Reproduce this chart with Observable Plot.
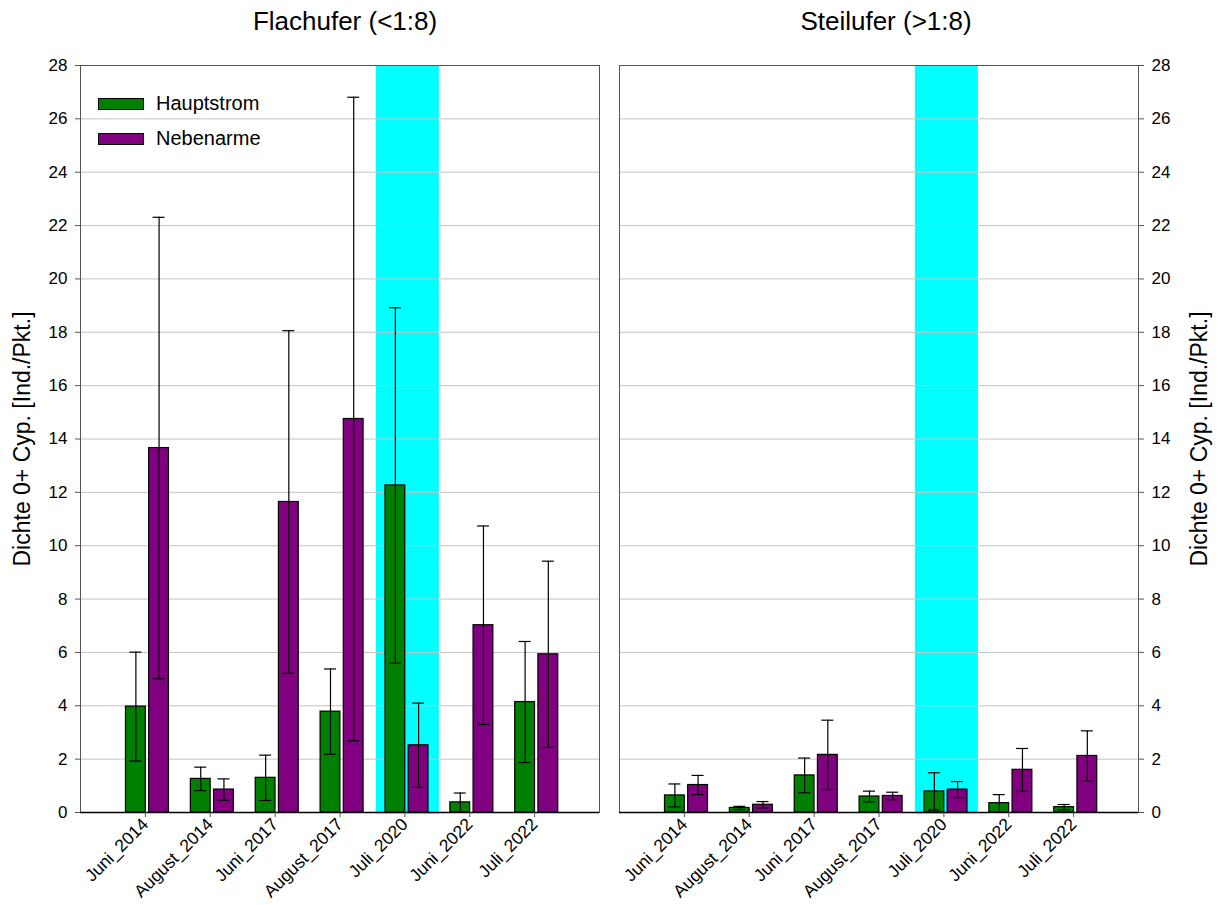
<!DOCTYPE html>
<html>
<head>
<meta charset="utf-8">
<script src="https://cdn.jsdelivr.net/npm/d3@7"></script>
<script src="https://cdn.jsdelivr.net/npm/@observablehq/plot@0.6"></script>
<style>
  body { margin: 0; background: #fff; font-family: "Liberation Sans", Arial, sans-serif; }
  #chart { position: relative; width: 1218px; height: 905px; }
  .panel { position: absolute; top: 0; }
  .title { position: absolute; top: 6px; line-height: 30px; font-size: 26px; color: #000;
           transform: translateX(-50%); white-space: nowrap; z-index: 2; }
  .legend { position: absolute; left: 98px; top: 90px; z-index: 2; font-size: 20px; color: #000; }
  .legend .row { display: flex; align-items: center; height: 27px; margin-bottom: 8px; }
  .legend .sw { box-sizing: border-box; width: 46px; height: 12px; border: 1px solid #000; margin-right: 12px; }
</style>
</head>
<body>
<div id="chart"></div>
<script>
// Sampling dates (x categories)
const dates = ["Juni_2014", "August_2014", "Juni_2017", "August_2017", "Juli_2020", "Juni_2022", "Juli_2022"];
// Series and their fills
const series = ["Hauptstrom", "Nebenarme"];
const seriesColors = ["#008000", "#800080"];
// Date shaded in cyan
const highlighted = ["Juli_2020"];

// Flachufer (<1:8): mean density and error
const flachHaupt    = [3.97, 1.26, 1.30, 3.78, 12.26, 0.38, 4.14];
const flachHauptErr = [2.04, 0.44, 0.85, 1.60, 6.66, 0.35, 2.27];
const flachNeben    = [13.66, 0.86, 11.64, 14.75, 2.52, 7.02, 5.93];
const flachNebenErr = [8.65, 0.40, 6.42, 12.06, 1.58, 3.72, 3.49];

// Steilufer (>1:8): mean density and error
const steilHaupt    = [0.64, 0.17, 1.39, 0.60, 0.79, 0.35, 0.20];
const steilHauptErr = [0.43, 0.06, 0.65, 0.20, 0.70, 0.32, 0.10];
const steilNeben    = [1.03, 0.29, 2.16, 0.62, 0.86, 1.60, 2.12];
const steilNebenErr = [0.36, 0.12, 1.30, 0.14, 0.30, 0.80, 0.94];

// Axis ticks and labels
const yTicks = [0, 2, 4, 6, 8, 10, 12, 14, 16, 18, 20, 22, 24, 26, 28];
const yLabel = "Dichte 0+ Cyp. [Ind./Pkt.]";
const titles = ["Flachufer (<1:8)", "Steilufer (>1:8)"];

const yMax = yTicks[yTicks.length - 1];
const FONT = "'Liberation Sans', Arial, sans-serif";
const frameWidth = 519;
const band = frameWidth / 8;       // band step: 7 dates + half a step on each side
const half = band / 2;
// bar extents relative to band centre, per series
const place = {
  Hauptstrom: {lo: -19.4, hi: 0.4},
  Nebenarme:  {lo: 3.8, hi: 23.6}
};
const capHalf = 6;

function panel(values, side) {
  const left = side === "left";
  const rows = dates.flatMap((d, i) => series.map((s, j) => ({
    date: d, serie: s, value: values[j][0][i], err: values[j][1][i]
  })));

  const seriesMarks = series.flatMap((s, j) => {
    const p = place[s];
    const data = rows.filter(r => r.serie === s);
    const mid = (p.lo + p.hi) / 2;
    return [
      Plot.barY(data, {
        x: "date", y: "value", fill: seriesColors[j], stroke: "#000", strokeWidth: 1.2,
        insetLeft: half + p.lo, insetRight: half - p.hi
      }),
      Plot.ruleX(data, {
        x: "date", y1: d => d.value - d.err, y2: d => d.value + d.err,
        dx: mid, stroke: "#000", strokeWidth: 1.2
      }),
      Plot.tickY(data, {
        x: "date", y: d => d.value + d.err, stroke: "#000", strokeWidth: 1.2,
        insetLeft: half + mid - capHalf, insetRight: half - mid - capHalf
      }),
      Plot.tickY(data, {
        x: "date", y: d => d.value - d.err, stroke: "#000", strokeWidth: 1.2,
        insetLeft: half + mid - capHalf, insetRight: half - mid - capHalf
      })
    ];
  });

  return Plot.plot({
    width: 609,
    height: 905,
    marginTop: 65,
    marginBottom: 93,
    marginLeft: left ? 80 : 10,
    marginRight: left ? 10 : 80,
    style: {fontFamily: FONT, fontSize: "17px", color: "#000", background: "transparent"},
    x: {type: "band", domain: dates, paddingInner: 0, paddingOuter: 0.5, round: false, label: null},
    y: {domain: [0, yMax], label: null},
    marks: [
      Plot.barY(highlighted, {
        x: d => d, y1: 0, y2: yMax, fill: "#00ffff",
        insetLeft: half - 28.5, insetRight: half - 34.5, insetBottom: -1.5
      }),
      Plot.gridY(yTicks.filter(t => t > 0 && t < yMax), {stroke: "#c4c4c4", strokeOpacity: 1, strokeWidth: 1}),
      ...seriesMarks,
      Plot.frame({stroke: "#555", strokeWidth: 1}),
      Plot.ruleY([0], {stroke: "#000", strokeWidth: 1.5}),
      Plot.axisY(yTicks, {
        anchor: left ? "left" : "right", tickSize: 5, tickPadding: 8,
        fontSize: 17, label: null, stroke: "#555"
      }),
      Plot.axisX({
        tickRotate: -45, tickSize: 5, tickPadding: 4, fontSize: 17.5,
        label: null, stroke: "#555"
      }),
      Plot.text([yLabel], {
        frameAnchor: left ? "left" : "right", textAnchor: "middle", rotate: -90,
        dx: left ? -58 : 61, fontSize: 23, fill: "#000"
      })
    ]
  });
}

const chart = document.getElementById("chart");

const leftPlot = panel([[flachHaupt, flachHauptErr], [flachNeben, flachNebenErr]], "left");
leftPlot.classList.add("panel");
leftPlot.style.left = "0px";
chart.appendChild(leftPlot);

const rightPlot = panel([[steilHaupt, steilHauptErr], [steilNeben, steilNebenErr]], "right");
rightPlot.classList.add("panel");
rightPlot.style.left = "609px";
chart.appendChild(rightPlot);

// Panel titles
[[titles[0], 345], [titles[1], 886]].forEach(([t, cx]) => {
  const el = document.createElement("div");
  el.className = "title";
  el.textContent = t;
  el.style.left = cx + "px";
  chart.appendChild(el);
});

// Legend inside the left panel
const legend = document.createElement("div");
legend.className = "legend";
series.forEach((s, i) => {
  const row = document.createElement("div");
  row.className = "row";
  const sw = document.createElement("span");
  sw.className = "sw";
  sw.style.background = seriesColors[i];
  row.appendChild(sw);
  row.appendChild(document.createTextNode(s));
  legend.appendChild(row);
});
chart.appendChild(legend);
</script>
</body>
</html>
